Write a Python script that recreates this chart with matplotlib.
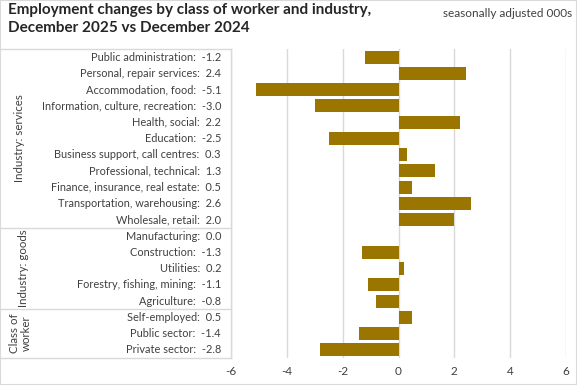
import matplotlib.pyplot as plt
from matplotlib.patches import Rectangle

services = ["Public administration", "Personal, repair services", "Accommodation, food",
            "Information, culture, recreation", "Health, social", "Education",
            "Business support, call centres", "Professional, technical",
            "Finance, insurance, real estate", "Transportation, warehousing", "Wholesale, retail"]
services_vals = [-1.2, 2.4, -5.1, -3.0, 2.2, -2.5, 0.3, 1.3, 0.5, 2.6, 2.0]

goods = ["Manufacturing", "Construction", "Utilities", "Forestry, fishing, mining", "Agriculture"]
goods_vals = [0.0, -1.3, 0.2, -1.1, -0.8]

workers = ["Self-employed", "Public sector", "Private sector"]
workers_vals = [0.5, -1.4, -2.8]

groups = ["Industry: services", "Industry: goods", "Class of\nworker"]
xticks = [-6, -4, -2, 0, 2, 4, 6]

plt.rcParams['font.family'] = ['Lato', 'DejaVu Sans']

cats = services + goods + workers
vals = services_vals + goods_vals + workers_vals
sizes = [len(services), len(goods), len(workers)]
n = len(cats)

BAR = "#9a7500"
GRID = "#d9d9d9"
TXT = "#404040"

fig = plt.figure(figsize=(5.77, 3.85), dpi=100)
bottom, top = 27 / 385, 336 / 385

ax = fig.add_axes([231 / 577, bottom, 335 / 577, top - bottom])
ypos = list(range(n))
ax.barh(ypos, vals, height=0.8, color=BAR, zorder=3)
ax.set_ylim(n - 0.5, -0.5)
ax.set_xlim(-6, 6)
ax.set_xticks(xticks)
ax.set_xticklabels([str(t) for t in xticks], fontsize=8.5, color=TXT)
ax.set_yticks([])
ax.tick_params(axis="x", length=0, pad=6)
ax.grid(axis="x", color=GRID, linewidth=1, zorder=0)
for s in ax.spines.values():
    s.set_visible(False)

# label table on the left
lab = fig.add_axes([0, bottom, 231 / 577, top - bottom])
lab.set_xlim(0, 231)
lab.set_ylim(n, 0)
lab.axis("off")
for i, (c, v) in enumerate(zip(cats, vals)):
    lab.text(221, i + 0.5, f"{c}:  {v:.1f}", ha="right", va="center", fontsize=7.9, color=TXT)

edges = [0]
for s in sizes:
    edges.append(edges[-1] + s)
for e in edges:
    lab.plot([0, 230.5], [e, e], color=GRID, lw=1, clip_on=False)
lab.plot([230.5, 230.5], [0, n], color=GRID, lw=1, clip_on=False)

group_x = [20, 24, 20]
for g, x0, a, b in zip(groups, group_x, edges[:-1], edges[1:]):
    lab.text(x0, (a + b) / 2, g, rotation=90, ha="center", va="center",
             fontsize=8.3, color=TXT, linespacing=1.1)

fig.text(8 / 577, 1 - 3 / 385, "Employment changes by class of worker and industry,\nDecember 2025 vs December 2024",
         ha="left", va="top", fontsize=11, fontweight="bold", color="#262626", linespacing=1.35)
fig.text(572 / 577, 1 - 8 / 385, "seasonally adjusted 000s", ha="right", va="top",
         fontsize=8.5, color=TXT)

fig.patches.append(Rectangle((0, 0), 1, 1, transform=fig.transFigure, fill=False,
                             edgecolor=GRID, lw=1.5))

fig.savefig("out.png", dpi=100)
